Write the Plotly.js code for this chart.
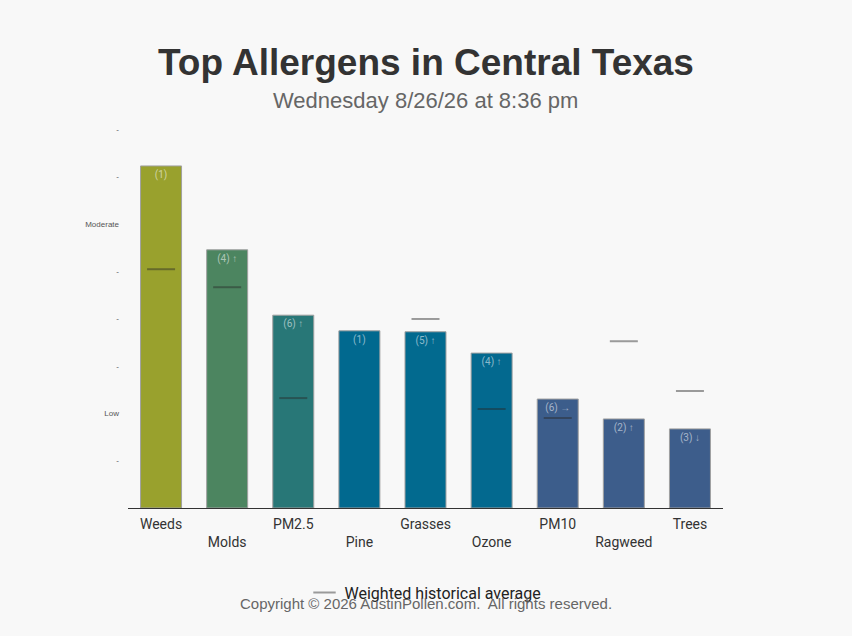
<!DOCTYPE html>
<html>
<head>
<meta charset="utf-8">
<script src="https://cdn.plot.ly/plotly-3.0.1.min.js"></script>
<style>
html,body{margin:0;padding:0;background:#f8f8f8;}
#chart{width:852px;height:636px;}
</style>
</head>
<body>
<div id="chart"></div>
<script>
const categories = ["Weeds","Molds","PM2.5","Pine","Grasses","Ozone","PM10","Ragweed","Trees"];
const tickLabels = ["Weeds","<br>Molds","PM2.5","<br>Pine","Grasses","<br>Ozone","PM10","<br>Ragweed","Trees"];
const levels = [7.22, 5.45, 4.07, 3.74, 3.72, 3.27, 2.30, 1.88, 1.67];
const barLabels = ["(1)","(4) ↑","(6) ↑","(1)","(5) ↑","(4) ↑","(6) →","(2) ↑","(3) ↓"];
const barColors = ["#99a12d","#4c8560","#287777","#01698f","#026a8f","#03698f","#3c5d8b","#3d5d8b","#3d5d8b"];
const histAvg = [5.04, 4.66, 2.32, null, 3.99, 2.09, 1.90, 3.52, 2.47];
const yTickVals = [1,2,3,4,5,6,7,8];
const yTickText = ["-","Low","-","-","-","Moderate","-","-"];

const bars = {
  type: "bar",
  x: categories,
  y: levels,
  text: barLabels,
  textposition: "inside",
  insidetextanchor: "end",
  textangle: 0,
  textfont: {family: "Roboto, sans-serif", size: 10, color: "rgba(255,255,255,0.55)"},
  constraintext: "none",
  marker: {color: barColors, line: {color: "#a0a0a0", width: 1}},
  showlegend: false,
  hoverinfo: "skip"
};

const avg = {
  type: "scatter",
  mode: "markers",
  x: categories,
  y: histAvg,
  name: "Weighted historical average",
  marker: {symbol: "line-ew", size: 20, color: "rgba(40,40,40,0.45)", line: {color: "rgba(40,40,40,0.45)", width: 2}},
  hoverinfo: "skip"
};

const layout = {
  width: 852,
  height: 636,
  paper_bgcolor: "#f8f8f8",
  plot_bgcolor: "#f8f8f8",
  margin: {l: 128, r: 129, t: 129, b: 128},
  bargap: 0.38,
  showlegend: true,
  legend: {
    orientation: "h",
    x: 0.5, xanchor: "center",
    y: -0.223, yanchor: "middle",
    bgcolor: "rgba(0,0,0,0)",
    font: {family: "Roboto, sans-serif", size: 16, color: "#222"}
  },
  xaxis: {
    type: "category",
    tickvals: categories,
    ticktext: tickLabels,
    range: [-0.5, 8.5],
    showline: true,
    linecolor: "#333",
    linewidth: 1,
    showgrid: false,
    zeroline: false,
    ticks: "",
    ticklabelstandoff: 3,
    tickfont: {family: "Roboto, sans-serif", size: 14, color: "#333"}
  },
  yaxis: {
    range: [0, 8],
    tickvals: yTickVals,
    ticktext: yTickText,
    showgrid: false,
    zeroline: false,
    showline: false,
    ticks: "",
    ticklabelstandoff: 8,
    tickfont: {family: "Liberation Sans, Arial, sans-serif", size: 8, color: "#555"}
  },
  annotations: [
    {text: "<b>Top Allergens in Central Texas</b>", xref: "paper", yref: "paper", x: 0.5, y: 1, xanchor: "center", yanchor: "middle",
     yshift: 67, showarrow: false, font: {family: "Liberation Sans, Arial, sans-serif", size: 37, color: "#333"}},
    {text: "Wednesday 8/26/26 at 8:36 pm", xref: "paper", yref: "paper", x: 0.5, y: 1, xanchor: "center", yanchor: "middle",
     yshift: 29, showarrow: false, font: {family: "Liberation Sans, Arial, sans-serif", size: 22, color: "#666"}},
    {text: "Copyright © 2026 AustinPollen.com.  All rights reserved.", xref: "paper", yref: "paper", x: 0.5, y: 0, xanchor: "center", yanchor: "middle",
     yshift: -95, showarrow: false, font: {family: "Liberation Sans, Arial, sans-serif", size: 15, color: "#666"}}
  ]
};

Plotly.newPlot("chart", [bars, avg], layout, {displayModeBar: false, staticPlot: true});
</script>
</body>
</html>
